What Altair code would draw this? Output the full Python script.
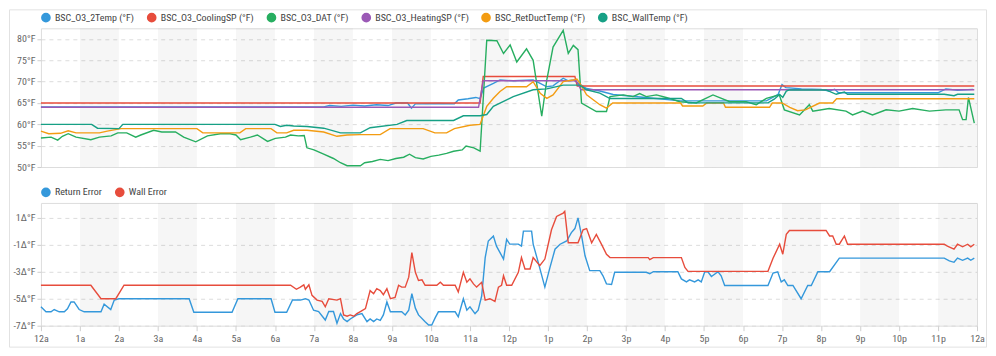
import altair as alt
import pandas as pd

# ---------------- data ----------------
hour_labels = ["12a", "1a", "2a", "3a", "4a", "5a", "6a", "7a", "8a", "9a", "10a", "11a",
               "12p", "1p", "2p", "3p", "4p", "5p", "6p", "7p", "8p", "9p", "10p", "11p", "12a"]
band_starts = [1, 3, 5, 7, 9, 11, 13, 15, 17, 19, 21, 23]

top_names = ["BSC_O3_2Temp (°F)", "BSC_O3_CoolingSP (°F)", "BSC_O3_DAT (°F)",
             "BSC_O3_HeatingSP (°F)", "BSC_RetDuctTemp (°F)", "BSC_WallTemp (°F)"]
top_colors = ["#3498db", "#e74c3c", "#27ae60", "#9b59b6", "#f39c12", "#16a085"]
top_y_ticks = [50, 55, 60, 65, 70, 75, 80]

temp2_h = [0, 7.25, 7.4, 7.7, 8.0, 8.3, 8.6, 8.9, 9.1, 9.4, 9.5, 9.6, 10.2, 10.6, 10.7, 10.95,
           11.15, 11.26, 11.35, 11.6, 11.77, 12.11, 12.62, 12.8, 12.97, 13.13, 13.39, 13.52,
           13.65, 13.99, 14.33, 14.67, 15.5, 16.4, 18.6, 18.9, 19.0, 19.1, 19.5, 20.0, 20.2,
           20.35, 20.45, 23.0, 23.2, 23.5, 23.9]
temp2_v = [64.1, 64.1, 64.4, 64.2, 64.5, 64.3, 64.6, 64.4, 65.0, 65.0, 63.8, 64.8, 64.9, 64.8,
           65.7, 66.0, 66.3, 66.0, 68.5, 69.6, 70.4, 70.2, 70.4, 69.6, 68.8, 69.0, 70.8, 70.2,
           70.4, 68.4, 67.8, 67.0, 66.3, 65.5, 65.5, 67.0, 69.3, 68.6, 68.3, 68.2, 67.8, 68.2,
           67.4, 67.4, 68.3, 68.0, 68.2]

cooling_h = [0, 11.26, 11.34, 13.69, 13.75, 23.93]
cooling_v = [65, 65, 71.2, 71.2, 69, 69]

dat_h = [0, 0.26, 0.43, 0.55, 0.7, 0.9, 1.28, 1.5, 1.8, 1.97, 2.2, 2.43, 2.56, 2.89, 3.1, 3.45,
         3.66, 3.97, 4.27, 4.6, 4.85, 5.0, 5.12, 5.37, 5.55, 5.81, 6.01, 6.27, 6.4, 6.6, 6.75,
         6.82, 7.0, 7.25, 7.5, 7.68, 7.85, 8.19, 8.3, 8.5, 8.7, 8.9, 9.1, 9.3, 9.45, 9.6, 9.8,
         10.0, 10.2, 10.4, 10.58, 10.8, 10.9, 11.1, 11.26, 11.43, 11.69, 11.86, 12.03, 12.2,
         12.45, 12.62, 12.84, 12.97, 13.13, 13.39, 13.52, 13.65, 13.77, 13.86, 14.24, 14.5,
         14.59, 14.93, 15.18, 15.35, 15.52, 15.78, 16.03, 16.38, 16.8, 17.23, 17.66, 18.08,
         18.34, 18.6, 18.93, 19.06, 19.45, 19.7, 19.79, 20.21, 20.64, 20.81, 21.07, 21.32,
         21.67, 22.0, 22.35, 22.78, 23.2, 23.54, 23.63, 23.72, 23.78, 23.93]
dat_v = [56.8, 57.0, 56.3, 57.2, 57.8, 57.0, 56.4, 57.0, 57.3, 58.0, 58.0, 57.0, 57.5, 58.6,
         58.2, 58.2, 57.0, 55.9, 57.3, 57.8, 57.8, 57.5, 56.4, 57.0, 57.5, 56.0, 56.7, 57.0,
         57.5, 57.3, 57.4, 54.5, 54.0, 53.0, 52.0, 51.0, 50.3, 50.3, 51.0, 51.3, 51.8, 51.5,
         52.0, 52.3, 53.0, 52.2, 51.9, 52.5, 52.8, 53.2, 53.7, 54.0, 54.9, 54.5, 53.7, 79.7,
         79.6, 76.6, 78.6, 74.6, 77.7, 75.0, 61.9, 70.4, 78.1, 82.0, 76.6, 78.5, 77.5, 65.0,
         63.0, 63.0, 66.5, 66.9, 66.5, 67.2, 66.5, 66.9, 66.3, 65.3, 65.0, 66.9, 65.3, 65.3,
         64.6, 66.1, 66.9, 63.4, 62.2, 64.6, 63.1, 63.7, 63.1, 62.2, 63.1, 62.2, 63.4, 63.1,
         63.7, 63.1, 63.4, 63.4, 61.1, 61.1, 66.3, 60.3]

heating_h = [0, 11.22, 11.34, 13.72, 13.85, 23.93]
heating_v = [64, 64, 70.2, 70.2, 68.1, 68.1]

retduct_h = [0, 0.2, 0.5, 0.7, 0.9, 1.5, 1.7, 2.05, 4.0, 4.15, 5.1, 5.25, 5.9, 6.05, 6.3,
             6.48, 6.82, 7.25, 7.59, 7.85, 8.19, 8.7, 8.95, 9.8, 10.1, 10.4, 10.6, 11.0, 11.26,
             11.3, 11.43, 11.6, 11.77, 11.94, 12.45, 12.62, 12.8, 12.97, 13.13, 13.39, 13.65,
             13.74, 13.82, 13.99, 14.33, 14.5, 14.66, 16.4, 16.45, 16.97, 17.07, 17.5, 17.55,
             18.68, 18.75, 19.0, 19.2, 19.4, 19.6, 19.96, 20.3, 20.4, 23.93]
retduct_v = [58.4, 57.8, 57.9, 58.5, 58.0, 58.0, 58.4, 59.0, 59.0, 58.0, 58.0, 59.0, 59.0, 58.0,
             58.0, 58.6, 58.6, 58.2, 57.2, 57.5, 57.6, 57.6, 59.0, 59.0, 58.0, 58.0, 59.0, 59.8,
             60.0, 61.0, 64.2, 66.1, 67.7, 68.8, 68.8, 70.0, 67.3, 66.1, 66.9, 70.0, 70.4, 70.6,
             69.6, 66.9, 64.6, 63.8, 65.0, 65.0, 64.3, 64.3, 65.0, 65.0, 64.0, 64.0, 65.0, 65.0,
             64.0, 63.2, 63.4, 65.0, 65.0, 66.0, 66.0]

wall_h = [0, 1.3, 1.45, 2.0, 2.1, 6.0, 6.14, 6.3, 6.48, 6.82, 7.25, 7.68, 8.19, 8.44, 9.13,
          9.38, 10.58, 10.83, 11.26, 11.43, 11.6, 12.11, 12.62, 12.97, 13.39, 13.82, 13.99,
          14.33, 14.59, 15.57, 16.42, 16.59, 18.64, 18.8, 18.94, 19.02, 19.11, 19.19, 20.13,
          20.39, 20.6, 20.68, 23.16, 23.41, 23.5, 23.93]
wall_v = [60, 60, 59.1, 59.0, 60, 60, 59.5, 59.8, 59.6, 59.5, 59.1, 58.0, 58.0, 59.2, 60.0,
          60.9, 60.9, 62.0, 62.0, 62.3, 64.2, 66.5, 68.1, 68.3, 69.2, 69.2, 68.1, 67.3, 66.05,
          66.05, 66.05, 65.03, 65.03, 65.9, 67.0, 66.3, 67.8, 68.06, 68.06, 67.04, 67.6, 67.04,
          67.04, 66.7, 67.04, 67.04]

bottom_names = ["Return Error", "Wall Error"]
bottom_colors = ["#3498db", "#e74c3c"]
bottom_y_ticks = [-7, -5, -3, -1, 1]

ret_err_h = [0, 0.13, 0.26, 0.34, 0.47, 0.6, 0.68, 0.77, 0.85, 0.98, 1.11, 1.54, 1.62, 1.79,
             1.88, 2.0, 3.8, 3.92, 4.9, 5.05, 5.9, 6.0, 6.3, 6.45, 6.65, 6.78, 6.87, 6.99, 7.12,
             7.29, 7.38, 7.5, 7.59, 7.68, 7.76, 7.85, 7.93, 8.1, 8.23, 8.36, 8.44, 8.53, 8.61,
             8.7, 8.78, 8.87, 8.96, 9.25, 9.34, 9.43, 9.51, 9.6, 9.68, 9.85, 9.94, 10.02, 10.11,
             10.19, 10.62, 10.7, 10.83, 10.92, 11.0, 11.13, 11.21, 11.3, 11.39, 11.47, 11.6,
             11.68, 11.86, 11.94, 12.02, 12.24, 12.32, 12.37, 12.58, 12.62, 12.75, 12.92, 13.05,
             13.18, 13.31, 13.48, 13.6, 13.69, 13.77, 13.86, 13.95, 14.07, 14.33, 14.41, 14.5,
             14.63, 14.71, 15.52, 15.61, 15.7, 16.33, 16.42, 16.55, 16.63, 16.76, 16.85, 16.93,
             17.02, 17.1, 17.19, 17.36, 17.44, 17.53, 18.64, 18.77, 18.89, 18.98, 19.06, 19.15,
             19.28, 19.49, 19.66, 19.75, 19.92, 20.22, 20.47, 23.16, 23.29, 23.41, 23.5, 23.63,
             23.76, 23.84, 23.93]
ret_err_v = [-5.6, -5.97, -5.97, -5.8, -5.97, -5.97, -5.75, -5.24, -5.24, -5.8, -5.97, -5.97,
             -5.4, -5.8, -5.1, -5.0, -5.0, -6.0, -6.0, -5.0, -5.0, -6.0, -6.0, -5.1, -5.1, -5.0,
             -5.1, -5.85, -5.95, -6.58, -5.95, -5.95, -6.82, -6.1, -6.5, -6.7, -6.5, -6.2, -6.1,
             -6.7, -6.5, -6.7, -6.5, -6.6, -6.2, -5.24, -5.97, -5.97, -6.2, -5.85, -4.63, -5.7,
             -6.2, -6.7, -6.95, -6.95, -6.4, -5.97, -5.97, -6.34, -5.0, -5.85, -5.6, -6.1, -5.85,
             -4.8, -1.95, -0.72, -0.36, -1.1, -2.06, -0.6, -0.95, -0.95, -1.1, 0.01, 0.01, -0.95,
             -2.31, -4.14, -2.7, -1.33, -0.96, -0.72, -0.1, 0.2, 0.99, -0.3, -1.82, -2.92, -2.92,
             -3.3, -3.9, -3.95, -3.04, -3.04, -3.15, -3.0, -3.0, -3.53, -3.75, -3.6, -3.75, -3.6,
             -3.75, -3.0, -3.0, -3.35, -3.0, -3.3, -4.02, -4.02, -3.1, -3.0, -3.75, -3.6, -4.02,
             -4.02, -5.0, -4.02, -4.02, -3.0, -3.0, -1.99, -1.99, -2.2, -2.3, -1.99, -2.15, -1.99,
             -2.15, -1.99]

wall_err_h = [0, 1.28, 1.54, 1.92, 2.13, 6.4, 6.55, 6.65, 6.74, 6.78, 6.87, 6.95, 7.08, 7.21,
              7.29, 7.38, 7.59, 7.68, 7.76, 7.85, 7.93, 8.02, 8.1, 8.19, 8.32, 8.44, 8.53, 8.61,
              8.7, 8.78, 8.87, 8.96, 9.08, 9.17, 9.25, 9.34, 9.43, 9.51, 9.6, 9.68, 9.77, 9.85,
              10.15, 10.24, 10.32, 10.62, 10.7, 10.83, 10.92, 11.0, 11.09, 11.17, 11.3, 11.39,
              11.51, 11.64, 11.73, 11.81, 11.86, 11.94, 12.07, 12.24, 12.32, 12.41, 12.54, 12.62,
              12.79, 12.92, 13.09, 13.22, 13.39, 13.43, 13.52, 13.77, 13.9, 13.99, 14.12, 14.24,
              14.37, 14.5, 14.59, 15.57, 15.61, 15.7, 16.42, 16.51, 16.59, 18.64, 18.77, 18.94,
              19.02, 19.11, 19.19, 20.13, 20.22, 20.3, 20.39, 20.47, 20.6, 20.68, 23.16, 23.24,
              23.41, 23.5, 23.63, 23.76, 23.84, 23.93]
wall_err_v = [-4, -4, -5, -5, -4, -4, -4.3, -4.14, -3.97, -4.3, -3.97, -4.75, -5.1, -5.2, -5.6,
              -5.0, -5.1, -5.0, -6.2, -6.3, -6.2, -6.3, -6.1, -5.95, -5.73, -4.4, -4.63, -4.26,
              -4.4, -4.7, -4.26, -5.0, -4.9, -4.0, -4.14, -4.14, -3.4, -1.58, -3.04, -3.65, -3.6,
              -4.0, -4.0, -3.78, -4.0, -4.0, -4.5, -3.04, -3.78, -3.53, -3.9, -4.14, -3.78, -5.1,
              -5.0, -5.2, -4.14, -4.0, -3.3, -4.0, -4.0, -3.04, -1.95, -2.8, -2.8, -1.95, -2.55,
              -2.06, 0.11, 1.1, 1.35, 1.48, -0.85, -0.85, 0.11, 0.2, -0.85, -0.23, -0.95, -1.7,
              -1.95, -1.95, -2.1, -1.95, -1.95, -2.68, -2.97, -2.97, -2.0, -0.96, -1.7, -0.23,
              0.06, 0.06, -0.35, -0.35, -0.96, -0.96, -0.35, -0.96, -0.96, -1.1, -1.33, -0.96,
              -1.15, -0.96, -1.15, -0.96]

# ---------------- tables ----------------
top_series = [temp2_h, cooling_h, dat_h, heating_h, retduct_h, wall_h]
top_values = [temp2_v, cooling_v, dat_v, heating_v, retduct_v, wall_v]
rows = []
for name, hs, vs in zip(top_names, top_series, top_values):
    rows += [{"h": h, "v": v, "series": name} for h, v in zip(hs, vs)]
top_df = pd.DataFrame(rows)

rows = []
for name, hs, vs in zip(bottom_names, [ret_err_h, wall_err_h], [ret_err_v, wall_err_v]):
    rows += [{"h": h, "v": v, "series": name} for h, v in zip(hs, vs)]
bottom_df = pd.DataFrame(rows)

bands_df = pd.DataFrame({"start": band_starts})
frame_df = pd.DataFrame({"k": [0]})

W = 938
H_TOP = 139
H_BOT = 123
FONT = "'Roboto Condensed', 'Liberation Sans Narrow', 'DejaVu Sans Condensed', Roboto"

xscale = alt.Scale(domain=[0, 24], nice=False, zero=False)
label_array = "[" + ",".join("'" + s + "'" for s in hour_labels) + "]"

bottom_xaxis = alt.Axis(values=list(range(25)), labelExpr=label_array + "[datum.value]",
                        title=None, grid=False, domain=False, tickColor="#cfcfcf",
                        tickSize=5, labelColor="#666", labelFontSize=10, labelFont=FONT,
                        labelPadding=3, labelOverlap=False, labelFlush=False)


def legend(names):
    return alt.Legend(title=None, orient="none", legendX=0, legendY=-16, direction="horizontal",
                      symbolType="circle", symbolSize=22, symbolStrokeWidth=5,
                      labelFontSize=10, labelFont=FONT, labelColor="#444",
                      columnPadding=4, labelOffset=4, values=names)


def yaxis(ticks, suffix):
    return alt.Axis(values=ticks, labelExpr="datum.value + '" + suffix + "'", title=None,
                    grid=True, gridDash=[4, 4], gridColor="#dcdcdc", domain=False,
                    tickColor="#cfcfcf", tickSize=4, labelColor="#666", labelFontSize=10,
                    labelFont=FONT, labelPadding=2)


def bands(h, xaxis):
    return alt.Chart(bands_df).transform_calculate(end="datum.start + 1").mark_rect(
        fill="#000", opacity=0.035).encode(
        x=alt.X("start:Q", scale=xscale, axis=xaxis), x2="end:Q",
        y=alt.value(0), y2=alt.value(h))


frame = alt.Chart(frame_df).mark_rect(fill="white", fillOpacity=0, stroke="#e2e2e2",
                                      strokeWidth=1).encode(
    x=alt.value(-31.5), x2=alt.value(947.5), y=alt.value(-18.5), y2=alt.value(319.5))

top_lines = alt.Chart(top_df).mark_line(strokeWidth=1.4).encode(
    x=alt.X("h:Q", scale=xscale, axis=None),
    y=alt.Y("v:Q", scale=alt.Scale(domain=[50, 82.5], nice=False, zero=False),
            axis=yaxis(top_y_ticks, "°F")),
    color=alt.Color("series:N", scale=alt.Scale(domain=top_names, range=top_colors),
                    sort=top_names, legend=legend(top_names)),
    detail="series:N",
)
top = alt.layer(frame, bands(H_TOP, None), top_lines).properties(width=W, height=H_TOP)

bottom_lines = alt.Chart(bottom_df).mark_line(strokeWidth=1.4).encode(
    x=alt.X("h:Q", scale=xscale, axis=bottom_xaxis),
    y=alt.Y("v:Q", scale=alt.Scale(domain=[-7, 2.1], nice=False, zero=False),
            axis=yaxis(bottom_y_ticks, "Δ°F")),
    color=alt.Color("series:N", scale=alt.Scale(domain=bottom_names, range=bottom_colors),
                    sort=bottom_names, legend=legend(bottom_names)),
)
bottom = alt.layer(bands(H_BOT, bottom_xaxis), bottom_lines).properties(width=W, height=H_BOT)

chart = alt.vconcat(top, bottom, spacing=36, bounds="flush").resolve_scale(
    color="independent").resolve_legend(color="independent").properties(
    padding={"left": 0, "top": 0, "right": 0, "bottom": 0}
).configure_view(stroke="#d6d6d6").configure(font=FONT, background="white")

chart.save("out.html", embed_options={"renderer": "svg", "actions": False})
